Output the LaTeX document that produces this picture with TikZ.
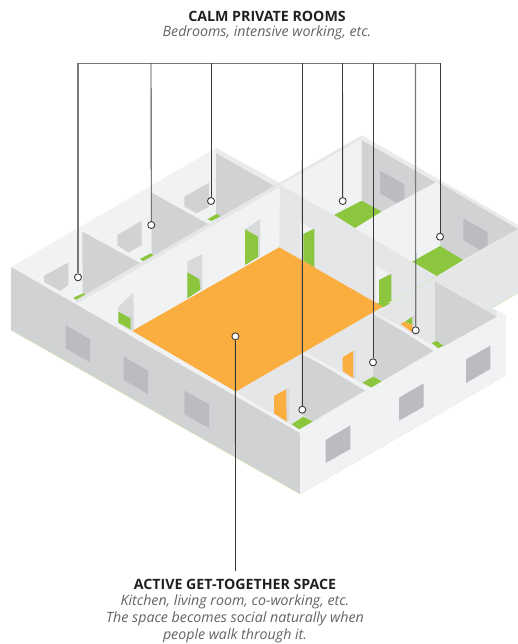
\documentclass[tikz,border=0pt]{standalone}
\usepackage{fontspec}
\setmainfont{Open Sans}
\definecolor{wdark}{HTML}{D1D2D4}
\definecolor{wmid}{HTML}{E5E6E8}
\definecolor{wlight}{HTML}{F1F2F4}
\definecolor{wtop}{HTML}{EAEBED}
\definecolor{winout}{HTML}{BBBCBF}
\definecolor{winin}{HTML}{D1D2D4}
\definecolor{cgreen}{HTML}{8CC63F}
\definecolor{corange}{HTML}{FBAE40}
\definecolor{frameg}{HTML}{D8D9DB}
\definecolor{inkline}{HTML}{3A3A3C}
\definecolor{inkgray}{HTML}{77787A}
\definecolor{edgegreen}{HTML}{D5E6B5}
\definecolor{titleink}{HTML}{231F20}
\definecolor{subink}{HTML}{626365}
\tikzset{
  fdark/.style={fill=wdark},
  fmid/.style={fill=wmid},
  flight/.style={fill=wlight},
  ftop/.style={fill=wtop},
  fwout/.style={fill=winout},
  fwin/.style={fill=winin},
  fgreen/.style={fill=cgreen},
  forange/.style={fill=corange},
  fframe/.style={fill=frameg},
  link/.style={draw=inkline,line width=0.9pt},
  linkgray/.style={draw=inkgray,line width=1.2pt},
  pin/.style={circle,draw=inkline,fill=white,line width=0.9pt,minimum size=7pt,inner sep=0pt},
  headtxt/.style={font=\fontsize{14.2}{16}\selectfont\bfseries,text=titleink,inner sep=0pt,anchor=center},
  subtxt/.style={font=\fontsize{14.2}{16}\selectfont\itshape,text=subink,inner sep=0pt,anchor=center}
}
\begin{document}
\begin{tikzpicture}[x=1pt,y=-1pt]
\useasboundingbox (0,0) rectangle (518,644);
% left block base
\path[flight] (11,267)--(216,148)--(280,184)--(280,247)--(235.5,392)--(300,433)--cycle;
\path[ftop] (216,148)--(280,183)--(276,187)--(216,153.3)--cycle;
% left outer face
\path[fdark] (11,267)--(300,433)--(300,494)--(11,330)--cycle;
\draw[edgegreen,line width=0.5pt] (11,330)--(300,494)--(506,375);
\path[fwout] (65.7,325)--(90,339.3)--(90,362.3)--(65.7,348.3)--cycle;
\path[fwout] (123.7,356.7)--(148,370.7)--(148,394)--(123.7,380)--cycle;
\path[fwout] (184.3,390.7)--(209,404.3)--(209,428)--(184.3,414.3)--cycle;
% left rooms
\path[fdark] (216,153.3)--(276,187)--(216,221)--cycle;
\path[fdark] (151.7,192.7)--(209,224.5)--(151.7,257)--cycle;
\path[fdark] (82.3,231.7)--(140,263)--(82.7,296)--cycle;
\path[fwin] (44,275.7)--(68.3,262.7)--(68.3,285)--(60,291)--(44,281.7)--cycle;
\path[fwin] (117.3,235)--(141.7,220.7)--(141.7,245)--(128.3,252.7)--(117.3,245)--cycle;
\path[fwin] (184.3,196.7)--(209,182.7)--(209,206.7)--(196.7,213.3)--(184.3,206.7)--cycle;
% middle wall face
\path[flight] (76,302)--(280,184)--(280,247)--(132,331)--cycle;
\path[fgreen] (73.3,297.7)--(83.3,293.3)--(86,295)--(76,300)--cycle;
\path[fgreen] (140,259)--(150.7,253.3)--(154,255.7)--(143.3,261.3)--cycle;
\path[fgreen] (207.3,219.3)--(216.7,214)--(220.7,216)--(211.7,221)--cycle;
% long top strip
\path[fmid] (76,300)--(361.7,135.5)--(361.7,140)--(76,304)--cycle;
% doors in middle wall
\path[fframe] (118.3,307)--(133.3,292.7)--(134,329)--(131,331)--(118.3,323)--cycle;
\path[fgreen] (118.3,311.7)--(130.7,318.3)--(130.7,329.3)--(118.3,322.7)--cycle;
\path[fframe] (187.3,261.7)--(202.3,254)--(202.3,288.5)--(187.3,298)--cycle;
\path[fgreen] (187.3,272.3)--(199.3,279)--(200.5,289.5)--(187.3,298.3)--cycle;
\path[fframe] (245,229.3)--(260,219.3)--(260,256)--(245,265)--cycle;
\path[fgreen] (245,229.3)--(258,236.7)--(258,257)--(245,265)--cycle;
% back green room 1
\path[flight] (280,185)--(361.7,139)--(361.7,201)--(334,215)--(300,230)--cycle;
\path[fdark] (361.7,140)--(437,182)--(381.7,212)--(361.7,200.7)--cycle;
\path[fwout] (380,170.7)--(404.3,184.3)--(404.3,199)--(397,203)--(380,193.5)--cycle;
\path[ftop] (361.7,135)--(518,225)--(518,229)--(361.7,140)--cycle;
\path[fgreen] (334,215)--(361.7,200.7)--(381.7,211.7)--(355,228.3)--cycle;
% back green room 2
\path[fdark] (437,181.7)--(518,229)--(463.3,260)--(440,246.7)--cycle;
\path[fwout] (463.3,218.3)--(487.7,232.3)--(487.7,245)--(480,250)--(463.3,240)--cycle;
\path[flight] (355,228.3)--(381.7,211.7)--(437,181.7)--(440,185)--(440,246)--(411.7,261.7)--cycle;
\path[fgreen] (411.7,262)--(440,246)--(463.3,260)--(436.7,276.3)--cycle;
% inner wall facing lower-left
\path[fmid] (280,185)--(334,215)--(355,228.3)--(437,276.3)--(382.7,306.7)--(279.3,247.3)--cycle;
% right block
\path[fmid] (235.5,391.7)--(382.7,306.7)--(436.7,276.3)--(518,229)--(518,293)--(491.7,308.3)--(506,315)--(300,433)--(260,407)--cycle;
\draw[edgegreen,line width=0.5pt] (391.7,302.7)--(436.7,276.3);
\draw[edgegreen,line width=0.5pt] (491.7,308.3)--(518,293);
% doors in inner wall
\path[flight] (300,221.7)--(312,229)--(303.3,234)--(303.3,259)--(300,257)--cycle;
\path[fgreen] (303.3,234)--(314.3,228.7)--(314.3,267.5)--(303.3,260.7)--cycle;
\path[flight] (376,265)--(389.3,273.5)--(379,280)--(379,304)--(376,302.5)--cycle;
\path[fgreen] (379,280)--(391.3,274)--(391.3,301)--(381,306)--(379,305)--cycle;
\path[fgreen] (376.7,304)--(383,300.5)--(390,303.5)--(382.7,307.5)--cycle;
% orange floor
\path[forange] (132,331)--(279.3,247.3)--(382.7,306.7)--(235.5,391.7)--cycle;
% front rooms
\path[fdark] (302.7,355)--(368.3,388.3)--(313.3,421)--(302.7,415)--cycle;
\path[fdark] (373.3,315)--(437.3,350)--(381.7,381.5)--(373.3,376.7)--cycle;
\path[fdark] (435,281.7)--(496.7,316.7)--(443.3,346.5)--(435,341.7)--cycle;
\path[flight] (303,353.3)--(306,353)--(372,389)--(366,391)--cycle;
\path[flight] (373.5,312.5)--(376,313)--(439,349)--(434,351)--cycle;
\path[fgreen] (291.7,424.3)--(303.3,416.7)--(313.3,421.7)--(299.3,429.5)--cycle;
\path[fgreen] (362.3,382.7)--(373.3,376.7)--(382.3,381.7)--(371.7,387.7)--cycle;
\path[fgreen] (431.7,343)--(436.7,341)--(443.3,345.7)--(438.3,348.3)--cycle;
% front wall
\path[flight] (299.3,429.5)--(313.3,421.5)--(381.7,381.5)--(438.3,348.3)--(444,346.5)--(496.7,317)--(496.7,310)--(506,315)--(506,375)--(300,494)--(300,433)--cycle;
\path[fwout] (325.7,440)--(350.3,425.3)--(350.3,449)--(325.7,463)--cycle;
\path[fwout] (399,397.7)--(423.7,383.3)--(423.7,406.7)--(399,420.7)--cycle;
\path[fwout] (466,359.3)--(490.3,345.7)--(490.3,369)--(466,383)--cycle;
% strip along left wall top
\path[flight] (132,331)--(235.5,391.7)--(299.3,429.5)--(300,433)--(127,333.7)--cycle;
% orange doors
\path[fframe] (286,389)--(289,387.5)--(289,420)--(286.7,421.7)--cycle;
\path[forange] (274,396)--(286,389.3)--(286.7,421.7)--(274,413.3)--cycle;
\path[fframe] (353,351)--(355.7,349.5)--(355.7,377.5)--(353,378)--cycle;
\path[forange] (342.7,357.3)--(353,351)--(353,378)--(342.7,371)--cycle;
\path[fgreen] (405,321.7)--(412.3,316.7)--(412.3,325)--cycle;
\path[forange] (400.7,324)--(404.3,321.7)--(412.7,325)--(412.7,332.7)--cycle;
\path[fframe] (412.7,316)--(415,315)--(415,330)--(412.7,330)--cycle;
% connectors
\coordinate (t1) at (78,63);
\coordinate (t2) at (151,63);
\coordinate (t3) at (211,63);
\coordinate (t4) at (302.5,63);
\coordinate (t5) at (342.5,63);
\coordinate (t6) at (373,63);
\coordinate (t7) at (415.5,63);
\coordinate (t8) at (440,63);
\coordinate (b0) at (235.5,571);
\node[pin] (d1) at (78,277.3) {};
\node[pin] (d2) at (151.3,225) {};
\node[pin] (d3) at (211,201) {};
\node[pin] (d4) at (302.3,409.7) {};
\node[pin] (d5) at (342.7,201) {};
\node[pin] (d6) at (373,362.3) {};
\node[pin] (d7) at (415.7,330.3) {};
\node[pin] (d8) at (440,236.7) {};
\node[pin] (d0) at (235.4,336.3) {};
\draw[link,draw=inkgray] (t1)--(t8);
\draw[linkgray] (t1)--(d1);
\draw[link] (t2)--(d2);
\draw[link] (t3)--(d3);
\draw[link] (t4)--(d4);
\draw[link] (t5)--(d5);
\draw[link] (t6)--(d6);
\draw[linkgray] (t7)--(d7);
\draw[link] (t8)--(d8);
\draw[link] (d0)--(b0);
% texts
\node[headtxt] (h1) at (267,16) {CALM PRIVATE ROOMS};
\node[subtxt] (s1) at (267,33) {Bedrooms, intensive working, etc.};
\node[headtxt] (h2) at (235,584) {ACTIVE GET-TOGETHER SPACE};
\node[subtxt] (s2) at (235,602) {Kitchen, living room, co-working, etc.};
\node[subtxt] (s3) at (235,619) {The space becomes social naturally when};
\node[subtxt] (s4) at (235,636) {people walk through it.};
\end{tikzpicture}
\end{document}
